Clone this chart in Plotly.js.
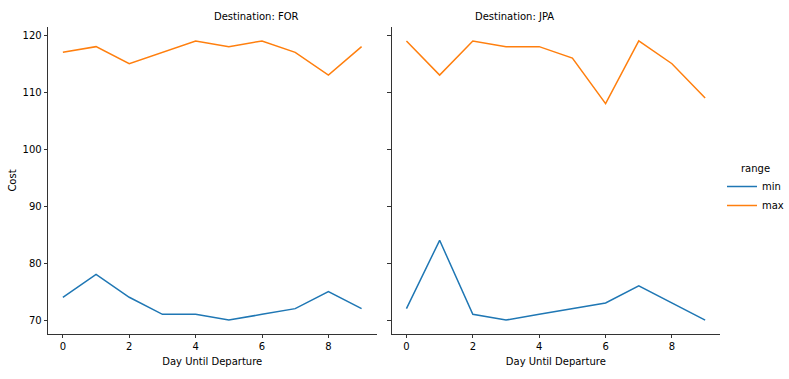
<!DOCTYPE html>
<html>
<head>
<meta charset="utf-8">
<script src="https://cdn.plot.ly/plotly-3.0.1.min.js"></script>
<style>html,body{margin:0;padding:0;background:#fff}#chart{width:789px;height:379px}</style>
</head>
<body>
<div id="chart"></div>
<script>
const days = [0,1,2,3,4,5,6,7,8,9];
const forMin = [74,78,74,71,71,70,71,72,75,72];
const forMax = [117,118,115,117,119,118,119,117,113,118];
const jpaMin = [72,84,71,70,71,72,73,76,73,70];
const jpaMax = [119,113,119,118,118,116,108,119,115,109];
const seriesNames = ['min','max'];
const colors = ['#1f77b4','#ff7f0e'];
const yTicks = [70,80,90,100,110,120];
const xTicks = [0,2,4,6,8];

const W = 789, H = 379;
const font = {family:'DejaVu Sans', size:10, color:'#000'};

const traces = [
  {x:days, y:forMin, name:seriesNames[0], xaxis:'x', yaxis:'y', legendgroup:'min', showlegend:true},
  {x:days, y:forMax, name:seriesNames[1], xaxis:'x', yaxis:'y', legendgroup:'max', showlegend:true},
  {x:days, y:jpaMin, name:seriesNames[0], xaxis:'x2', yaxis:'y2', legendgroup:'min', showlegend:false},
  {x:days, y:jpaMax, name:seriesNames[1], xaxis:'x2', yaxis:'y2', legendgroup:'max', showlegend:false}
].map((t,i)=>Object.assign(t,{type:'scatter', mode:'lines', line:{color:colors[i%2], width:1.5}, hoverinfo:'x+y'}));

const xr = [-0.45, 9.45];
const yr = [67.55, 121.45];
const d1 = [48/W, 377/W], d2 = [392/W, 721/W];
const yd = [(H-334)/H, (H-27)/H];
function xax(dom, anchor){
  return {domain:dom, range:xr, tickvals:xTicks, ticks:'outside', ticklen:3.5, tickwidth:0.8, tickcolor:'#000',
    showline:true, linecolor:'#000', linewidth:0.8, showgrid:false, zeroline:false, anchor:anchor,
    tickfont:font, title:{text:'Day Until Departure', font:font, standoff:6}};
}
const layout = {
  width:W, height:H, margin:{l:0,r:0,t:0,b:0}, paper_bgcolor:'#fff', plot_bgcolor:'#fff', font:font,
  showlegend:true,
  xaxis: xax(d1,'y'), xaxis2: xax(d2,'y2'),
  yaxis: {domain:yd, range:yr, tickvals:yTicks, ticks:'outside', ticklen:3.5, tickwidth:0.8, tickcolor:'#000',
    showline:true, linecolor:'#000', linewidth:0.8, showgrid:false, zeroline:false, anchor:'x',
    tickfont:font, title:{text:'Cost', font:font, standoff:3}},
  yaxis2: {domain:yd, range:yr, tickvals:yTicks, ticks:'outside', ticklen:3.5, tickwidth:0.8, tickcolor:'#000',
    showline:true, linecolor:'#000', linewidth:0.8, showgrid:false, zeroline:false, anchor:'x2', showticklabels:false, matches:'y'},
  legend:{x:723/W, xanchor:'left', y:0.5, yanchor:'middle', title:{text:'range', font:font, side:'top center'},
    font:font, bgcolor:'rgba(0,0,0,0)', itemwidth:30, tracegroupgap:0},
  annotations:[
    {text:'Destination: FOR', xref:'paper', yref:'paper', x:(d1[0]+d1[1])/2, y:(H-17)/H, yanchor:'middle', showarrow:false, font:font},
    {text:'Destination: JPA', xref:'paper', yref:'paper', x:(d2[0]+d2[1])/2, y:(H-17)/H, yanchor:'middle', showarrow:false, font:font}
  ]
};
Plotly.newPlot('chart', traces, layout, {displayModeBar:false, staticPlot:true});
</script>
</body>
</html>
